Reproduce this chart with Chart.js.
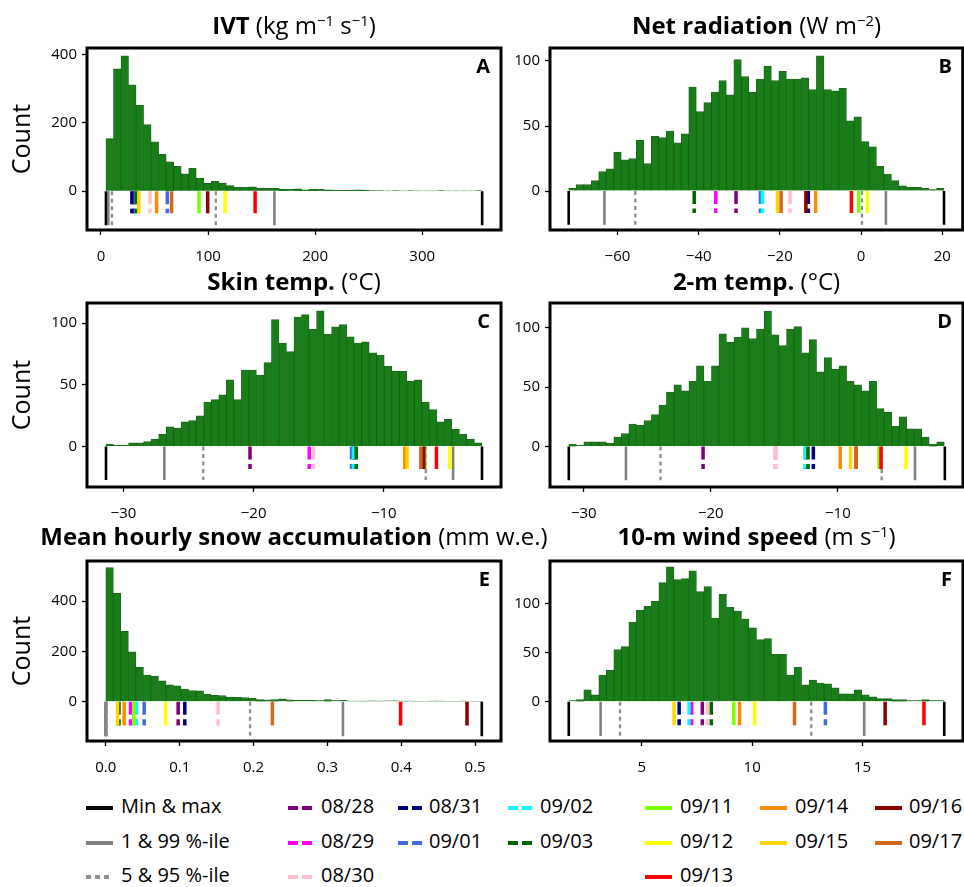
<!DOCTYPE html>
<html><head><meta charset="utf-8">
<script src="https://cdn.jsdelivr.net/npm/chart.js@4.4.0/dist/chart.umd.min.js"></script>
<style>
body{margin:0;width:964px;height:887px;background:#fff;position:relative;overflow:hidden;font-family:'Open Sans',sans-serif;color:#000}
canvas{position:absolute}
.title{position:absolute;font-size:24px;white-space:nowrap;transform:translateX(-50%);line-height:1}
.title b{font-weight:700}
.title sup{font-size:0.62em;position:relative;top:-0.55em;vertical-align:baseline;line-height:0}
.letter{position:absolute;font-weight:700;font-size:20px;line-height:1}
.leg{position:absolute;font-size:20px;line-height:1;white-space:nowrap}
.sw{position:absolute;height:4px}
</style></head><body>
<script>
// ---------- data ----------
const dates = ['08/28','08/29','08/30','08/31','09/01','09/02','09/03','09/11','09/12','09/13','09/14','09/15','09/16','09/17'];
const dateColors = ['#800080','#ff00ff','#ffc0cb','#000080','#4169e1','#00ffff','#006400','#7fff00','#ffff00','#ff0000','#ff8c00','#ffd700','#8b0000','#d2691e'];
const dateDashed = [true,true,true,true,true,true,true,false,false,false,false,false,false,false];
const statLabels = ['Min & max','1 & 99 %-ile','5 & 95 %-ile'];

// A: IVT
const ivtRange = [4.7, 356];
const ivtCounts = [154,359,397,312,252,195,145,108,86,73,51,67,38,23,29,24,16,12,11,13,9,8,8,6,5,7,4,6,5,4,3,3,3,4,3,2,2,1,2,1,2,1,1,1,2,1,1,1,1,2];
const ivtStats = [4.7,6.9,10.3,107.3,162,356]; // min, p1, p5, p95, p99, max
const ivtDates = [30.4,30.7,45.8,28.9,62,32.5,32.8,91.6,116,144,52,35.4,99.7,66];
const ivtXTicks = [0,100,200,300];
const ivtYTicks = [0,200,400];

// B: Net radiation
const netRange = [-72, 20.4];
const netCounts = [2,5,5,8,15,17,30,24,25,39,21,42,41,46,37,44,80,61,68,76,85,74,101,88,76,86,96,85,92,86,86,87,78,104,78,77,79,54,57,38,34,19,13,8,4,3,3,2,1,2];
const netStats = [-72,-63.2,-55.6,0.2,6.1,20.4];
const netDates = [-30.8,-35.8,-17.5,-13.0,-24.8,-24.3,-41.1,-0.6,1.5,-2.4,-11.2,-20.6,-13.6,-19.7];
const netXTicks = [-60,-40,-20,0,20];
const netYTicks = [0,50,100];

// C: Skin temperature
const skinRange = [-31.34, -2.46];
const skinCounts = [2,1,1,3,3,4,6,10,16,15,20,21,25,36,38,42,54,38,62,62,58,68,103,84,77,105,107,95,110,91,97,99,89,84,85,76,74,65,61,61,53,54,36,30,20,22,14,10,6,3];
const skinStats = [-31.34,-26.86,-23.87,-6.78,-4.68,-2.46];
const skinDates = [-20.28,-15.73,-15.4,-12.3,-12.48,-12.33,-12.12,-6.85,-4.93,-5.96,-8.39,-8.21,-6.93,-7.16];
const skinXTicks = [-30,-20,-10];
const skinYTicks = [0,50,100];

// D: 2-m temperature
const t2Range = [-31.18, -1.63];
const t2Counts = [2,1,4,4,4,3,8,11,19,18,22,27,35,46,52,47,55,68,55,68,95,88,92,100,91,99,114,94,85,99,101,79,90,63,75,65,68,55,52,47,55,32,29,17,25,15,15,8,2,4];
const t2Stats = [-31.18,-26.68,-23.96,-6.55,-3.93,-1.58];
const t2Dates = [-20.61,-14.91,-14.91,-11.93,-12.56,-12.56,-12.35,-6.76,-4.64,-6.6,-9.81,-9.0,-8.56,-8.56];
const t2XTicks = [-30,-20,-10];
const t2YTicks = [0,50,100];

// E: Mean hourly snow accumulation
const snowRange = [0, 0.509];
const snowCounts = [534,431,280,199,137,106,102,83,67,63,50,45,44,31,26,25,19,18,17,14,9,8,9,12,8,6,6,6,5,9,5,6,3,3,3,4,3,4,4,3,3,2,2,3,3,2,2,3,2,2];
const snowStats = [0,0.0005,0.001,0.1953,0.321,0.509];
const snowDates = [0.0979,0.0334,0.152,0.1069,0.0519,0.0415,0.0178,0.0379,0.0808,0.399,0.0248,0.0158,0.489,0.2255];
const snowXTicks = [0,0.1,0.2,0.3,0.4,0.5];
const snowYTicks = [0,200,400];

// F: 10-m wind speed
const windRange = [1.686, 18.71];
const windCounts = [1,2,12,7,27,32,53,56,81,93,97,102,121,137,124,125,133,112,117,85,109,96,92,84,75,63,64,48,48,27,35,17,22,19,18,14,8,8,12,7,5,3,3,2,2,1,1,2,1,1];
const windStats = [1.686,3.13,4.01,12.68,15.08,18.71];
const windDates = [7.74,7.26,7.97,6.69,13.32,7.14,8.15,9.17,10.11,17.79,9.43,6.46,16.03,11.92];
const windXTicks = [5,10,15];
const windYTicks = [0,50,100];

// ---------- layout / styling ----------
const FONT = "'Open Sans', sans-serif";
Chart.defaults.font.family = FONT;
const cols = [{left:0,width:505,yw:87,pr:4,boxL:87,boxR:501},{left:503,width:461,yw:47,pr:1,boxL:550,boxR:963}];
const rows = [{top:34,h:236,xh:40,titleTop:13},{top:289,h:231,xh:33,titleTop:269},{top:547,h:228,xh:34,titleTop:524}];

const minusFmt = v => (v < 0 ? '\u2212' : '') + Math.abs(v);
const oneDec = v => v.toFixed(1);
const panels = [
  {id:'A',r:0,c:0,counts:ivtCounts,range:ivtRange,stats:ivtStats,dv:ivtDates,xt:ivtXTicks,yt:ivtYTicks,xlim:[-13,373.6],ylim:[-114,420],sd:-100,dd:-65,xfmt:minusFmt,
   title:'<b>IVT</b> (kg m<sup>\u22121</sup> s<sup>\u22121</sup>)'},
  {id:'B',r:0,c:1,counts:netCounts,range:netRange,stats:netStats,dv:netDates,xt:netXTicks,yt:netYTicks,xlim:[-76.6,25],ylim:[-30,110],sd:-26,dd:-17,xfmt:minusFmt,
   title:'<b>Net radiation</b> (W m<sup>\u22122</sup>)'},
  {id:'C',r:1,c:0,counts:skinCounts,range:skinRange,stats:skinStats,dv:skinDates,xt:skinXTicks,yt:skinYTicks,xlim:[-32.8,-1.0],ylim:[-32.8,116.4],sd:-27.2,dd:-18.2,xfmt:minusFmt,
   title:'<b>Skin temp.</b> (\u00B0C)'},
  {id:'D',r:1,c:1,counts:t2Counts,range:t2Range,stats:t2Stats,dv:t2Dates,xt:t2XTicks,yt:t2YTicks,xlim:[-32.66,-0.15],ylim:[-34,120.9],sd:-28.3,dd:-18.9,xfmt:minusFmt,
   title:'<b>2-m temp.</b> (\u00B0C)'},
  {id:'E',r:2,c:0,counts:snowCounts,range:snowRange,stats:snowStats,dv:snowDates,xt:snowXTicks,yt:snowYTicks,xlim:[-0.0255,0.535],ylim:[-156,560],sd:-136.7,dd:-94,xfmt:oneDec,
   title:'<b>Mean hourly snow accumulation</b> (mm w.e.)'},
  {id:'F',r:2,c:1,counts:windCounts,range:windRange,stats:windStats,dv:windDates,xt:windXTicks,yt:windYTicks,xlim:[0.835,19.56],ylim:[-40,143],sd:-35,dd:-24,xfmt:minusFmt,
   title:'<b>10-m wind speed</b> (m s<sup>\u22121</sup>)'}
];

const framePlugin = {id:'frame', afterDraw(chart){
  const {ctx, chartArea:a} = chart;
  ctx.save(); ctx.strokeStyle='#000'; ctx.lineWidth=3;
  ctx.strokeRect(a.left, a.top, a.right-a.left, a.bottom-a.top);
  ctx.restore();
}};

function vline(x, y1, color, width, dash, order){
  return {type:'line', data:[{x:x,y:0},{x:x,y:y1}], borderColor:color, borderWidth:width,
    borderDash:dash, pointRadius:0, fill:false, order:order, borderCapStyle:'butt', tension:0};
}

panels.forEach(p => {
  const col = cols[p.c], row = rows[p.r];
  const cv = document.createElement('canvas');
  cv.width = col.width; cv.height = row.h;
  cv.style.left = col.left+'px'; cv.style.top = row.top+'px';
  cv.style.width = col.width+'px'; cv.style.height = row.h+'px';
  document.body.appendChild(cv);

  const n = p.counts.length, w = (p.range[1]-p.range[0])/n;
  const bars = {type:'bar', data:p.counts.map((c,k)=>({x:p.range[0]+(k+0.5)*w, y:c})),
    backgroundColor:'#187f18', borderColor:'rgba(10,85,10,0.9)', borderWidth:1,
    barPercentage:1, categoryPercentage:1, order:1000};
  const ds = [bars];
  const st = p.stats;
  ds.push(vline(st[0], p.sd, '#000', 2.6, [], 500));
  ds.push(vline(st[5], p.sd, '#000', 2.6, [], 500));
  ds.push(vline(st[1], p.sd, '#808080', 2.6, [], 499));
  ds.push(vline(st[4], p.sd, '#808080', 2.6, [], 499));
  ds.push(vline(st[2], p.sd, '#909090', 2.4, [4,3.5], 498));
  ds.push(vline(st[3], p.sd, '#909090', 2.4, [4,3.5], 498));
  p.dv.forEach((v,i) => ds.push(vline(v, p.dd, dateColors[i], 3.5, dateDashed[i]?[13,4.5]:[], 100-i)));

  const tickFont = {family:FONT, size:15};
  new Chart(cv, {
    type:'bar',
    data:{datasets:ds},
    options:{
      responsive:false, animation:false, devicePixelRatio:1,
      layout:{padding:{top:10,right:col.pr,left:0,bottom:0}},
      plugins:{legend:{display:false}, tooltip:{enabled:false}, title:{display:false}},
      scales:{
        x:{type:'linear', min:p.xlim[0], max:p.xlim[1], offset:false,
          afterFit(s){ s.height = row.xh; },
          afterBuildTicks(s){ s.ticks = p.xt.map(v=>({value:v})); },
          grid:{display:true, offset:false, drawOnChartArea:false, drawTicks:true, tickLength:5, tickColor:'#000', tickWidth:1.3},
          border:{display:false},
          ticks:{color:'#000', font:tickFont, padding:13, maxRotation:0, autoSkip:false, callback:(v)=>p.xfmt(v)}},
        y:{type:'linear', min:p.ylim[0], max:p.ylim[1],
          afterFit(s){ s.width = col.yw; },
          afterBuildTicks(s){ s.ticks = p.yt.map(v=>({value:v})); },
          grid:{display:true, drawOnChartArea:false, drawTicks:true, tickLength:5, tickColor:'#000', tickWidth:1.3},
          border:{display:false},
          ticks:{color:'#000', font:tickFont, padding:5, autoSkip:false, callback:(v)=>String(v)},
          title:{display:p.c===0, text:'Count', color:'#000', font:{family:FONT,size:25}, padding:{top:8,bottom:0}}}
      }
    },
    plugins:[framePlugin]
  });

  const t = document.createElement('div');
  t.className = 'title'; t.innerHTML = p.title;
  t.style.left = ((col.boxL+col.boxR)/2)+'px'; t.style.top = row.titleTop+'px';
  document.body.appendChild(t);

  const L = document.createElement('div');
  L.className = 'letter'; L.textContent = p.id;
  L.style.right = (964-(col.boxR-11))+'px'; L.style.top = (row.top+10+12)+'px';
  document.body.appendChild(L);
});

// ---------- legend ----------
const legCols = [
  {line:86, text:121, items:[{t:statLabels[0],c:'#000',k:'solid'},{t:statLabels[1],c:'#808080',k:'solid'},{t:statLabels[2],c:'#909090',k:'dot'}]},
  {line:288,text:321, items:[0,1,2]},
  {line:398,text:429, items:[3,4]},
  {line:508,text:540, items:[5,6]},
  {line:645,text:680, items:[7,8,9]},
  {line:760,text:795, items:[10,11]},
  {line:875,text:909, items:[12,13]}
];
const legRows = [808,843,877];
legCols.forEach(lc => {
  lc.items.forEach((it,ri) => {
    const item = typeof it === 'number' ? {t:dates[it], c:dateColors[it], k:dateDashed[it]?'dash':'solid'} : it;
    const sw = document.createElement('div');
    sw.className = 'sw';
    sw.style.left = lc.line+'px'; sw.style.top = (legRows[ri]-2)+'px';
    sw.style.width = '27px';
    if (item.k === 'solid') sw.style.background = item.c;
    else if (item.k === 'dash') sw.style.background = `repeating-linear-gradient(to right, ${item.c} 0 10px, transparent 10px 14px)`;
    else sw.style.background = `repeating-linear-gradient(to right, ${item.c} 0 5px, transparent 5px 9px)`;
    document.body.appendChild(sw);
    const tx = document.createElement('div');
    tx.className = 'leg'; tx.textContent = item.t;
    tx.style.left = lc.text+'px'; tx.style.top = (legRows[ri]-12)+'px';
    document.body.appendChild(tx);
  });
});
</script>
</body></html>
